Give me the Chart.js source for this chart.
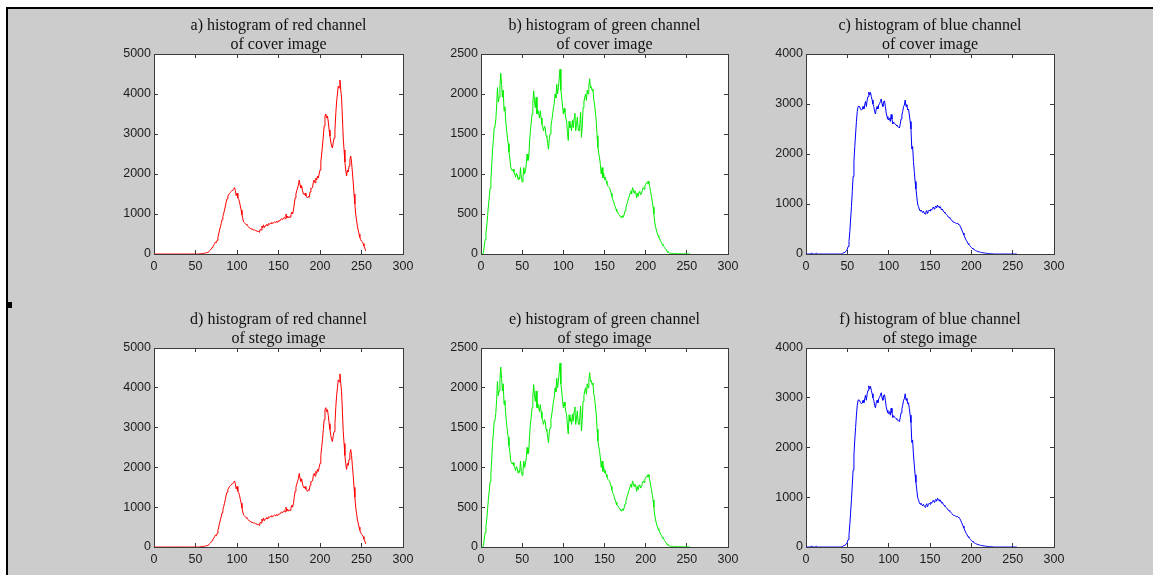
<!DOCTYPE html>
<html>
<head>
<meta charset="utf-8">
<script src="https://cdn.jsdelivr.net/npm/chart.js@4.4.0/dist/chart.umd.min.js"></script>
<style>
  html, body { margin: 0; padding: 0; width: 1153px; height: 575px; overflow: hidden; background: #ffffff; }
  #sheet { position: absolute; left: 6px; top: 7px; width: 1160px; height: 580px; background: #cccccc;
           border-top: 2px solid #000; border-left: 2px solid #000; }
  #mark { position: absolute; left: 8px; top: 302px; width: 4px; height: 6px; background: #000; }
  canvas { position: absolute; }
</style>
</head>
<body>
<div id="sheet"></div>
<div id="mark"></div>
<script>
// Intensity bins 0..255
const bins = Array.from({ length: 256 }, (_, i) => i);

// Pixel counts per intensity level, red channel
const redCover = [
  0, 0, 0, 0, 0, 0, 0, 0, 0, 0,
  0, 0, 0, 0, 0, 0, 0, 0, 0, 0,
  0, 0, 0, 0, 0, 0, 0, 0, 0, 0,
  0, 0, 0, 0, 0, 0, 0, 0, 0, 0,
  0, 0, 0, 0, 0, 0, 0, 0, 0, 0,
  0, 0, 0, 0, 0, 5, 10, 15, 10, 20,
  15, 20, 25, 30, 35, 50, 60, 80, 100, 130,
  160, 190, 220, 260, 300, 280, 340, 420, 500, 600,
  680, 760, 860, 940, 1020, 1100, 1200, 1300, 1380, 1450,
  1480, 1520, 1540, 1560, 1590, 1600, 1620, 1660, 1590, 1460,
  1520, 1400, 1370, 1300, 1200, 1100, 980, 880, 800, 780,
  760, 740, 720, 700, 680, 650, 640, 630, 620, 610,
  600, 605, 590, 580, 575, 560, 570, 540, 620, 600,
  700, 650, 730, 660, 700, 720, 740, 700, 760, 740,
  770, 760, 790, 760, 780, 800, 780, 810, 800, 790,
  830, 820, 850, 870, 880, 860, 900, 920, 880, 1000,
  900, 950, 900, 930, 920, 980, 1050, 1000, 1100, 1250,
  1400, 1500, 1580, 1650, 1720, 1850, 1720, 1650, 1700, 1580,
  1500, 1480, 1520, 1450, 1430, 1400, 1440, 1420, 1550, 1650,
  1640, 1660, 1800, 1850, 1780, 1900, 1850, 1950, 1900, 2000,
  2100, 2300, 2500, 2700, 2950, 3200, 3450, 3500, 3400, 3450,
  3300, 3100, 2950, 2800, 2700, 2650, 2800, 2900, 3100, 3500,
  3800, 4000, 4200, 4150, 4350, 4100, 3900, 3400, 2900, 2600,
  2300, 2100, 1950, 2100, 2050, 2200, 2350, 2450, 2300, 2050,
  1800, 1500, 1250, 1000, 850, 700, 600, 500, 420, 360,
  320, 300, 260, 200, 150, 80
];

// Pixel counts per intensity level, green channel
const greenCover = [
  0, 0, 0, 20, 100, 180, 260, 350, 480, 600,
  700, 820, 920, 1100, 1300, 1420, 1580, 1600, 1680, 1850,
  2080, 1900, 1960, 2100, 2260, 2120, 1960, 2050, 1790, 1840,
  1670, 1560, 1460, 1380, 1270, 1200, 1090, 1060, 1040, 1060,
  1020, 1000, 960, 1010, 990, 930, 960, 940, 1080, 950,
  900, 960, 1080, 1000, 1040, 1120, 1250, 1170, 1200, 1400,
  1540, 1640, 1750, 1900, 2040, 1900, 1830, 1960, 1750, 1800,
  1760, 1700, 1790, 1700, 1620, 1580, 1540, 1600, 1580, 1480,
  1460, 1380, 1310, 1450, 1500, 1600, 1670, 1740, 1830, 1880,
  2000, 1950, 2120, 2000, 2080, 2200, 2310, 2050, 1960, 1850,
  1750, 1820, 1770, 1700, 1660, 1520, 1420, 1660, 1580, 1620,
  1540, 1670, 1580, 1700, 1760, 1540, 1620, 1710, 1560, 1540,
  1620, 1770, 1460, 1600, 1830, 1900, 1960, 2000, 1920, 2050,
  2000, 2100, 2190, 2080, 2090, 2040, 2060, 1920, 1870, 1760,
  1660, 1480, 1330, 1260, 1200, 1120, 1000, 1080, 950, 1010,
  930, 960, 910, 880, 850, 840, 830, 800, 760, 720,
  680, 660, 620, 590, 560, 530, 520, 500, 490, 470,
  460, 450, 480, 460, 500, 540, 580, 620, 650, 690,
  720, 760, 790, 750, 830, 800, 760, 790, 770, 700,
  760, 720, 780, 770, 740, 760, 800, 830, 810, 850,
  870, 890, 880, 910, 880, 840, 780, 720, 660, 590,
  500, 400, 340, 300, 260, 230, 210, 190, 165, 145,
  125, 110, 95, 80, 65, 50, 35, 22, 16, 12,
  10, 8, 6, 10, 5, 4, 8, 6, 5, 4,
  3, 6, 5, 4, 3, 2, 4, 3, 2, 3,
  2, 1, 2, 1, 0, 0
];

// Pixel counts per intensity level, blue channel
const blueCover = [
  0, 0, 0, 0, 0, 0, 0, 20, 0, 0,
  0, 0, 0, 15, 0, 0, 0, 0, 0, 0,
  0, 0, 0, 0, 0, 0, 0, 0, 0, 0,
  0, 0, 0, 0, 0, 0, 0, 0, 0, 0,
  0, 0, 0, 5, 10, 20, 30, 40, 50, 60,
  100, 150, 250, 450, 700, 950, 1250, 1550, 1850, 2150,
  2400, 2650, 2850, 2950, 2960, 2940, 2900, 2880, 2890, 2950,
  2900, 2980, 3050, 2950, 3080, 3150, 3240, 3180, 3230, 3150,
  3080, 3000, 2950, 2850, 2800, 2900, 2950, 2900, 2980, 3010,
  3050, 3100, 3000, 2950, 3050, 3060, 2950, 2820, 2750, 2700,
  2680, 2720, 2650, 2790, 2700, 2600, 2640, 2610, 2600, 2580,
  2560, 2550, 2540, 2520, 2600, 2700, 2780, 2850, 2950, 2980,
  3080, 2950, 2990, 2880, 2900, 2780, 2650, 2500, 2100, 2150,
  1850, 1650, 1450, 1300, 1150, 1000, 950, 900, 860, 880,
  850, 830, 860, 820, 800, 840, 870, 810, 850, 880,
  860, 900, 880, 910, 940, 900, 930, 960, 920, 980,
  940, 950, 920, 930, 880, 900, 860, 840, 820, 800,
  790, 770, 740, 730, 720, 700, 680, 660, 640, 640,
  630, 620, 610, 620, 600, 590, 570, 540, 500, 460,
  420, 380, 340, 300, 270, 240, 210, 190, 170, 150,
  130, 115, 100, 90, 80, 70, 62, 55, 50, 45,
  40, 35, 30, 28, 25, 22, 20, 18, 15, 12,
  10, 8, 6, 12, 5, 3, 0, 0, 0, 0,
  0, 0, 0, 0, 0, 0, 0, 0, 0, 0,
  0, 0, 0, 0, 0, 0, 0, 0, 0, 0,
  0, 0, 0, 0, 0, 0
];

// The embedding leaves the channel histograms unchanged at this scale
const redStego = redCover;
const greenStego = greenCover;
const blueStego = blueCover;

// Axis ranges [min, max, step]
const xRange = [0, 300, 50];
const redRange = [0, 5000, 1000];
const greenRange = [0, 2500, 500];
const blueRange = [0, 4000, 1000];

// Panel titles
const titles = [
  ['a) histogram of red channel', 'of cover image'],
  ['b) histogram of green channel', 'of cover image'],
  ['c) histogram of blue channel', 'of cover image'],
  ['d) histogram of red channel', 'of stego image'],
  ['e) histogram of green channel', 'of stego image'],
  ['f) histogram of blue channel', 'of stego image']
];

const FRAME = '#3a3a3a';
const TICK_TEXT = '#1c1c1c';
const Y_AXIS_W = 54, X_AXIS_H = 26, TITLE_H = 44, RIGHT_PAD = 27;

const panels = [
  { left: 100, top: 10,  plotW: 249, plotH: 200, values: redCover,   color: '#ff0000', range: redRange },
  { left: 427, top: 10,  plotW: 247, plotH: 200, values: greenCover, color: '#00ee00', range: greenRange },
  { left: 752, top: 10,  plotW: 248, plotH: 200, values: blueCover,  color: '#0000ff', range: blueRange },
  { left: 100, top: 304, plotW: 249, plotH: 199, values: redStego,   color: '#ff0000', range: redRange },
  { left: 427, top: 304, plotW: 247, plotH: 199, values: greenStego, color: '#00ee00', range: greenRange },
  { left: 752, top: 304, plotW: 248, plotH: 199, values: blueStego,  color: '#0000ff', range: blueRange }
];

// White plotting area behind the curve
const plotFill = {
  id: 'plotFill',
  beforeDraw(chart) {
    const { ctx, chartArea: a } = chart;
    ctx.save();
    ctx.fillStyle = '#ffffff';
    ctx.fillRect(a.left, a.top, a.right - a.left, a.bottom - a.top);
    ctx.restore();
  }
};

const tickFont = { family: 'Liberation Sans, Arial, sans-serif', size: 12.5 };

function axis(position, range, showLabels, size) {
  const horizontal = position === 'top' || position === 'bottom';
  return {
    type: 'linear',
    position,
    min: range[0],
    max: range[1],
    ticks: {
      display: showLabels,
      stepSize: range[2],
      font: tickFont,
      color: TICK_TEXT,
      padding: horizontal ? 9 : 7,
      maxRotation: 0,
      autoSkip: false,
      callback: v => String(v)
    },
    grid: { drawOnChartArea: false, drawTicks: true, tickLength: -4, color: FRAME, lineWidth: 1 },
    border: { display: true, color: FRAME, width: 1 },
    afterFit(scale) {
      if (horizontal) scale.height = size; else scale.width = size;
    }
  };
}

panels.forEach((p, i) => {
  const canvas = document.createElement('canvas');
  const w = Y_AXIS_W + p.plotW + RIGHT_PAD;
  const h = TITLE_H + p.plotH + X_AXIS_H;
  canvas.width = w;
  canvas.height = h;
  canvas.style.left = p.left + 'px';
  canvas.style.top = p.top + 'px';
  canvas.style.width = w + 'px';
  canvas.style.height = h + 'px';
  document.body.appendChild(canvas);

  new Chart(canvas, {
    type: 'line',
    data: {
      datasets: [{
        data: bins.map((b, k) => ({ x: b, y: p.values[k] })),
        borderColor: p.color,
        borderWidth: 1,
        pointRadius: 0,
        fill: false,
        tension: 0
      }]
    },
    options: {
      responsive: false,
      animation: false,
      devicePixelRatio: 1,
      layout: { padding: { left: 0, right: RIGHT_PAD, top: 0, bottom: 0 } },
      plugins: {
        legend: { display: false },
        tooltip: { enabled: false },
        title: {
          display: true,
          text: titles[i],
          fullSize: false,
          color: '#111111',
          font: { family: 'Liberation Serif, Times New Roman, serif', size: 16, weight: 'normal', lineHeight: '19px' },
          padding: { top: 6, bottom: 0 }
        }
      },
      scales: {
        x: axis('bottom', xRange, true, X_AXIS_H),
        x2: axis('top', xRange, false, 0),
        y: axis('left', p.range, true, Y_AXIS_W),
        y2: axis('right', p.range, false, 0)
      }
    },
    plugins: [plotFill]
  });
});
</script>
</body>
</html>
